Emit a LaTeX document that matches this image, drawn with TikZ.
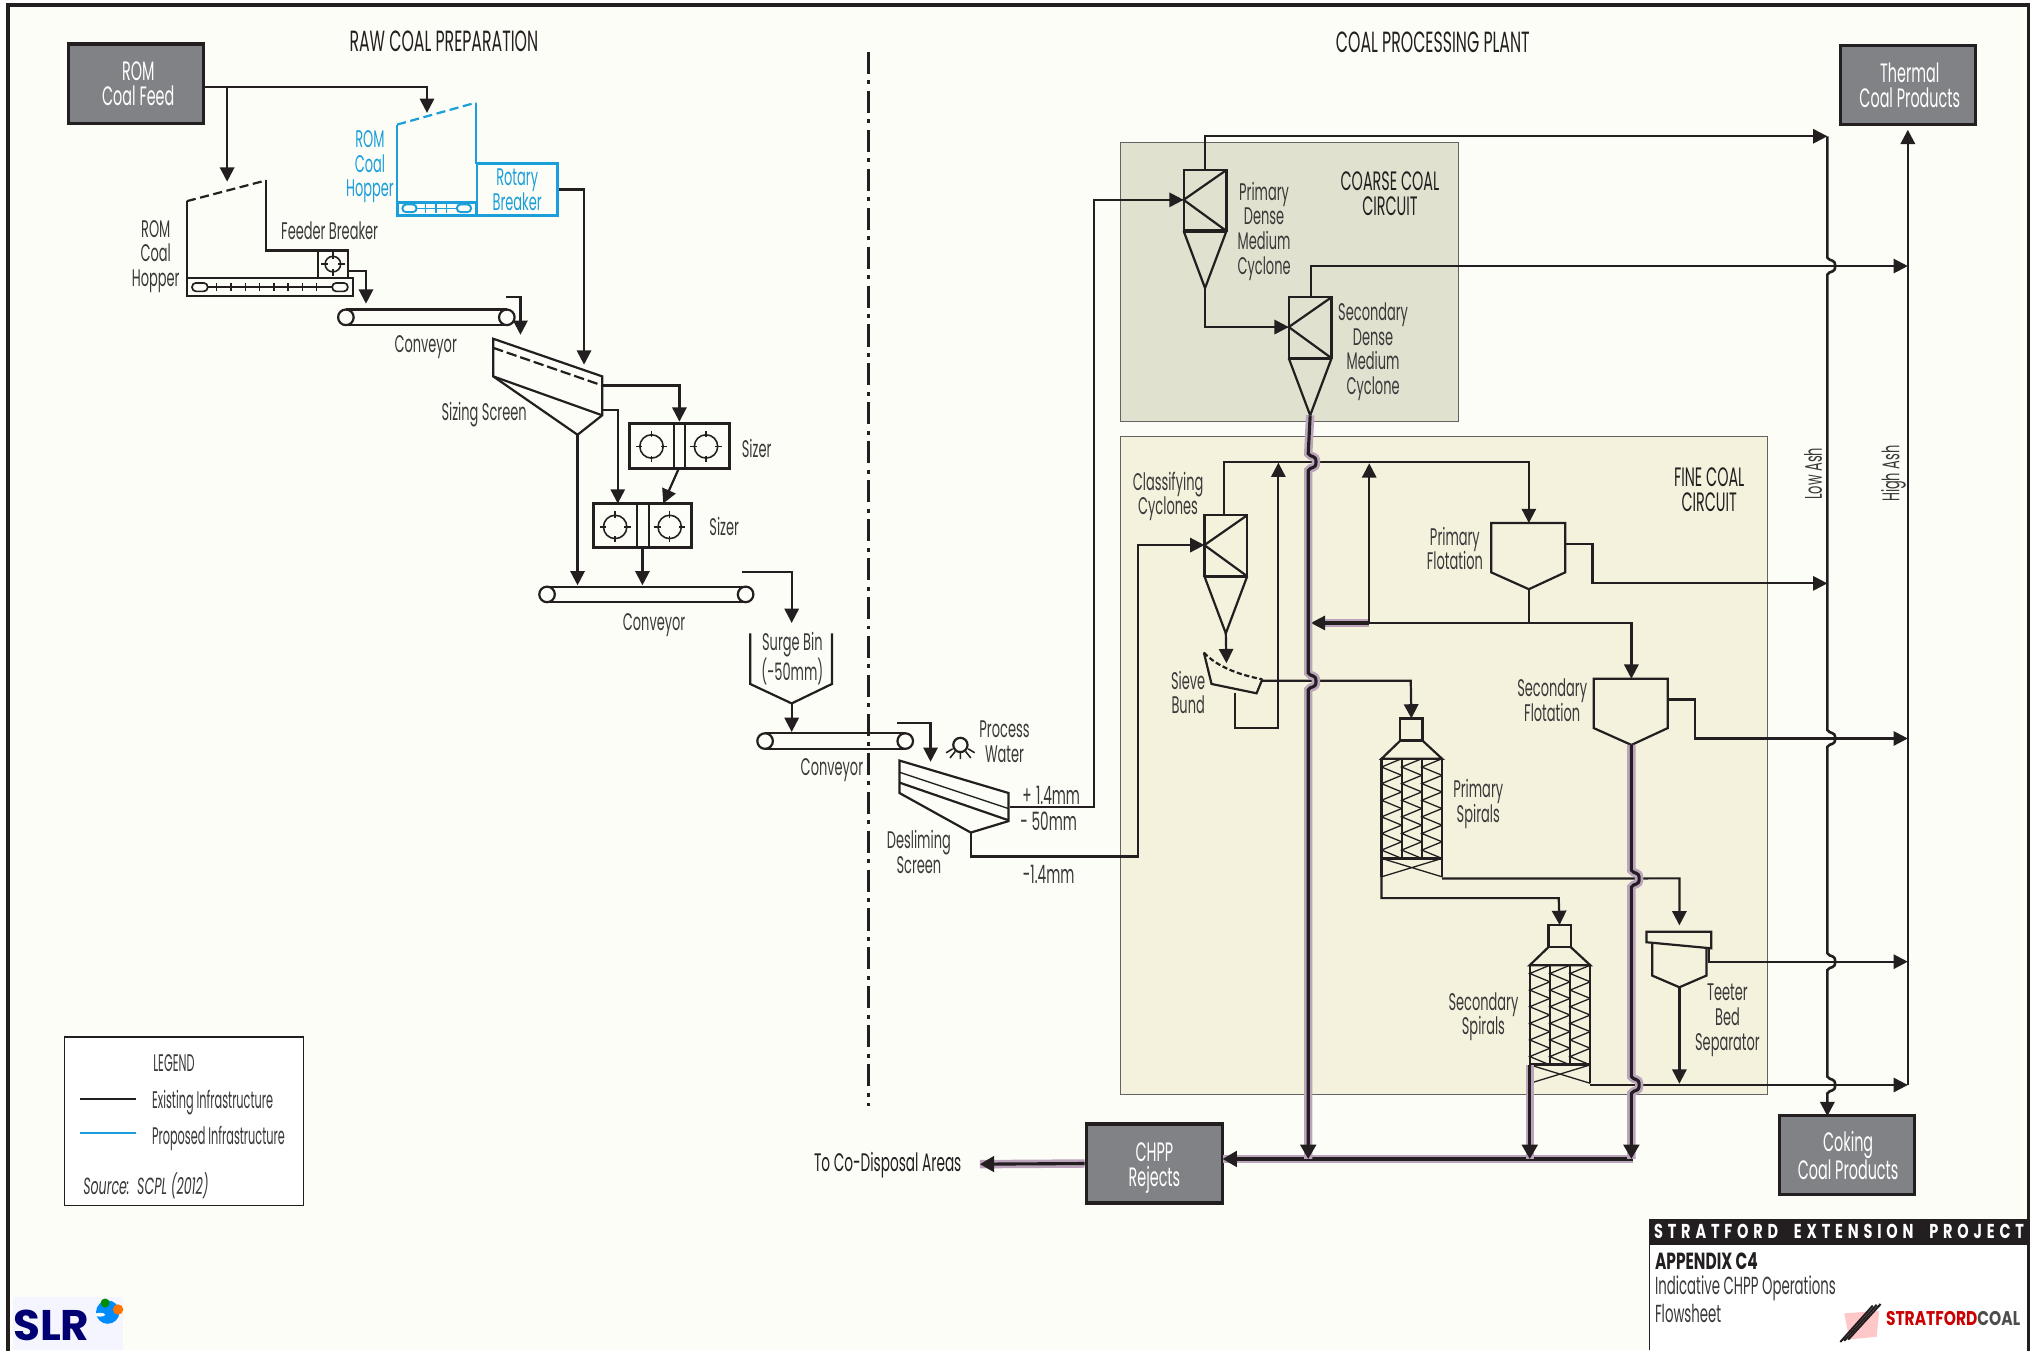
\documentclass[tikz,border=0pt]{standalone}
\usepackage{fontspec}
\setmainfont[FakeStretch=0.54]{Poppins}
\newfontfamily\headf[FakeStretch=0.72,LetterSpace=24]{Poppins}
\newfontfamily\logof[FakeStretch=0.78]{Poppins}
\newfontfamily\apxf[FakeStretch=0.66]{Poppins}
\newfontfamily\slrf[FakeStretch=1.02]{Poppins}
\newfontfamily\legf[FakeStretch=0.47]{Poppins}
\usetikzlibrary{arrows.meta,calc}
\definecolor{ink}{HTML}{231F20}
\definecolor{txt}{HTML}{3A3839}
\definecolor{paper}{HTML}{FDFDF7}
\definecolor{boxg}{HTML}{808285}
\definecolor{plum}{HTML}{BCA5BC}
\definecolor{pblue}{HTML}{1A9FDB}
\definecolor{coarse}{HTML}{E0E1CF}
\definecolor{fine}{HTML}{F4F2DD}
\tikzset{
  pipe/.style={draw=ink,line width=1.7pt,line join=miter},
  flow/.style={pipe,-{Triangle[length=11pt,width=11pt]}},
  rej/.style={draw=ink,line width=2.4pt,preaction={draw=plum,line width=6.5pt,-}},
  rejflow/.style={rej,-{Triangle[length=11pt,width=12pt]}},
  plant/.style={draw=ink,line width=1.7pt},
  bplant/.style={draw=pblue,line width=1.7pt},
  lab/.style={align=center,inner sep=0pt,text=txt,yshift=-2.5pt,font=\fontsize{18.5}{19}\selectfont},
  blab/.style={lab,text=pblue},
  head/.style={lab,text=ink,font=\fontsize{20.5}{19}\selectfont},
  title/.style={lab,text=ink,font=\fontsize{22.5}{19}\selectfont},
  legtext/.style={lab,anchor=west,font=\legf\fontsize{18.5}{19}\selectfont},
  prod/.style={draw=ink,fill=boxg,line width=2.6pt,inner sep=0pt,align=center,text=white,
     font=\fontsize{20.5}{19}\selectfont,minimum width=104pt,minimum height=61pt},
  circuit/.style={draw=ink!70,line width=0.8pt},
}
\newcommand\hop[2]{ -- ({#1},{#2-6.5}) .. controls ({#1+2},{#2-3}) and ({#1+6},{#2-6}) .. ({#1+6},{#2}) .. controls ({#1+6},{#2+6}) and ({#1+2},{#2+3}) .. ({#1},{#2+6.5}) }
\newcommand\conv[3]{% x1 x2 y
  \draw[plant] ({#1+6.5},{#3-6}) -- ({#2-6.5},{#3-6}) ({#1+6.5},{#3+6}) -- ({#2-6.5},{#3+6});
  \draw[plant] ({#1+6.5},{#3}) circle[radius=6pt] ({#2-6.5},{#3}) circle[radius=6pt];}
\newcommand\rotor[3]{% x y r
  \draw[draw=ink,line width=1.2pt] (#1,#2) circle[radius=#3 pt];
  \draw[draw=ink,line width=1.2pt] ({#1-#3-3},{#2}) -- ({#1-#3+2},{#2}) ({#1+#3-2},{#2}) -- ({#1+#3+3},{#2})
     ({#1},{#2-#3-3}) -- ({#1},{#2-#3+2}) ({#1},{#2+#3-2}) -- ({#1},{#2+#3+3});}
\newcommand\cyc[3]{% name x y
  \draw[plant] (#2,#3) rectangle ({#2+33},{#3+47});
  \draw[plant] ({#2+33},{#3}) -- ({#2},{#3+23}) -- ({#2+33},{#3+47});
  \draw[draw=ink,line width=2.4pt] (#2,{#3+47}) -- ({#2+33},{#3+47});
  \draw[plant] (#2,{#3+47}) -- ({#2+16.5},{#3+91}) -- ({#2+33},{#3+47});
  \coordinate (#1in) at (#2,{#3+23});
  \coordinate (#1top) at ({#2+16.5},#3);
  \coordinate (#1tip) at ({#2+16.5},{#3+91});}
\newcommand\zig[3]{% x1 x2 y0
  \foreach \i in {0,...,5}{
    \draw[draw=ink,line width=1pt] (#2,{#3+12.8*\i}) -- (#1,{#3+12.8*\i+6.4}) -- (#2,{#3+12.8*\i+12.8});}}
\newcommand\spiral[3]{% name x y
  \draw[plant] ({#2+14.5},#3) rectangle ({#2+31.5},{#3+17});
  \draw[plant] ({#2+14.5},{#3+17}) -- ({#2},{#3+31}) -- ({#2+46.6},{#3+31}) -- ({#2+31.5},{#3+17});
  \zig{#2}{#2+15.5}{#3+31}\zig{#2+15.5}{#2+31}{#3+31}\zig{#2+31}{#2+46.6}{#3+31}
  \draw[plant] (#2,{#3+31}) rectangle ({#2+46.6},{#3+107.8});
  \draw[plant] ({#2+15.5},{#3+31}) -- ({#2+15.5},{#3+107.8}) ({#2+31},{#3+31}) -- ({#2+31},{#3+107.8});
  \draw[draw=ink,line width=2.4pt] (#2,{#3+107.8}) -- ({#2+46.6},{#3+107.8});
  \draw[draw=ink,line width=1pt] (#2,{#3+107.8}) -- ({#2+46.6},{#3+122})
     (#2,{#3+122}) -- ({#2+46.6},{#3+107.8});
  \draw[plant] (#2,{#3+107.8}) -- (#2,{#3+122}) ({#2+46.6},{#3+107.8}) -- ({#2+46.6},{#3+122});
  \coordinate (#1top) at ({#2+23},#3);
  \coordinate (#1L) at (#2,{#3+107.8});
  \coordinate (#1R) at ({#2+46.6},{#3+123.3});}
\begin{document}
\begin{tikzpicture}[x=1pt,y=-1pt]
\useasboundingbox (0,0) rectangle (1568,1040.2);
\fill[white] (0,0) rectangle (1568,1040.2);
\fill[paper] (6,4) rectangle (1563,1040.2);
% circuits
\filldraw[fill=coarse,circuit] (863,110) rectangle (1124,325);
\filldraw[fill=fine,circuit] (863,336) rectangle (1362,843);
% titles
\node[title] (tRaw) at (342,29) {RAW COAL PREPARATION};
\node[title] (tPlant) at (1104,30) {COAL PROCESSING PLANT};
\node[head] (tCoarse) at (1071,147) {COARSE COAL\\CIRCUIT};
\node[head] (tFine) at (1317,375) {FINE COAL\\CIRCUIT};
% divider
\coordinate (divT) at (669,40); \coordinate (divB) at (669,852);
% product boxes
\node[prod] (romfeed) at (105,64.5) {\hspace*{3pt}ROM\\\hspace*{3pt}Coal Feed};
\node[prod] (thermal) at (1470,65.5) {\hspace*{3pt}Thermal\\\hspace*{3pt}Coal Products};
\node[prod] (coking) at (1423,890) {\hspace*{2pt}Coking\\\hspace*{2pt}Coal Products};
\node[prod,minimum width=105pt,text depth=0pt] (rejects) at (889.5,896.5) {\raisebox{-2pt}{CHPP}\\\raisebox{-2pt}{Rejects}};
% blue hopper
\draw[bplant,dash pattern=on 7pt off 3.5pt] (306,96) -- (367,79);
\draw[bplant] (306,96) -- (306,156) (367,79) -- (367,126);
\draw[draw=pblue,line width=2.2pt] (306,156) rectangle (367,166);
\node[draw=pblue,line width=2.2pt,minimum width=62pt,minimum height=40pt,inner sep=0pt,blab,yshift=2.5pt] (rotary) at (398.5,146) {Rotary\\Breaker};
\draw[draw=pblue,line width=1.5pt,rounded corners=3pt] (310,157.5) rectangle (321,163.5) (352,157.5) rectangle (363,163.5);
\draw[draw=pblue,line width=1.2pt] (321,160.5) -- (352,160.5) (328,157) -- (328,164) (336,157) -- (336,164) (344,157) -- (344,164);
\node[blab] (lblHopB) at (285,126) {ROM\\Coal\\Hopper};
% black hopper
\draw[plant,dash pattern=on 7pt off 3.5pt] (144,155) -- (205,139);
\draw[plant] (144,155) -- (144,214) (205,139) -- (205,193) -- (245,193);
\draw[plant] (144,214) rectangle (272,228);
\draw[plant] (245,193) rectangle (268,214);
\rotor{256.5}{203.5}{6}
\draw[draw=ink,line width=1.3pt,rounded corners=3pt] (148,218) rectangle (160,224.5) (256,218) rectangle (268,224.5);
\draw[draw=ink,line width=1.1pt] (160,221) -- (256,221);
\foreach \q in {167,178,189,200,211,222,233,244} \draw[draw=ink,line width=1.1pt] (\q,218) -- (\q,224.5);
\node[lab] (lblHop) at (120,195) {ROM\\Coal\\Hopper};
\node[lab] (lblFeeder) at (254,175) {Feeder Breaker};
% conveyors
\conv{260}{397}{244.5}
\conv{415}{581}{458}
\conv{583}{704}{571}
\node[lab] (lblC1) at (328,265) {Conveyor};
\node[lab] (lblC2) at (504,479) {Conveyor};
\node[lab] (lblC3) at (641,591) {Conveyor};
% sizing screen
\draw[plant] (380,261) -- (464,290) -- (464,320) -- (445,335) -- (380,290) -- cycle;
\draw[plant] (380,290) -- (464,320);
\draw[plant,dash pattern=on 8pt off 3pt] (380,268) -- (464,297);
\node[lab] (lblSS) at (373,317) {Sizing Screen};
% sizers
\node[draw=ink,line width=2.2pt,minimum width=77pt,minimum height=35pt,inner sep=0pt] (sizer1) at (523.5,343.5) {};
\node[draw=ink,line width=2.2pt,minimum width=76pt,minimum height=34pt,inner sep=0pt] (sizer2) at (495,405) {};
\draw[draw=ink,line width=1.5pt] (519,326) -- (519,361) (528,326) -- (528,361) (491,388) -- (491,422) (500,388) -- (500,422);
\rotor{502}{344}{9}\rotor{544}{344}{9}\rotor{474}{406}{9}\rotor{516}{406}{9}
\node[lab] (lblSz1) at (583,343) {Sizer};
\node[lab] (lblSz2) at (558,403) {Sizer};
% surge bin
\draw[plant] (578,488) -- (578,527) -- (610,542) -- (641,527) -- (641,488);
\node[lab] (lblSurge) at (610.5,505) {Surge Bin\\(-50mm)};
% process water
\draw[plant] (740,574) circle[radius=5.5pt];
\draw[draw=ink,line width=1.2pt] (740,580) -- (740,585) (736,579) -- (732,584) (744,579) -- (748,584) (734,577) -- (729,580) (746,577) -- (751,580);
\node[lab] (lblPW) at (774,569) {Process\\Water};
% desliming
\draw[plant] (693,586) -- (777,611) -- (777,632.7) -- (748,641.5) -- (693,611) -- cycle;
\draw[draw=ink,line width=1pt] (693,595) -- (777,623);
\draw[plant] (693,603) -- (777,632);
\node[lab] (lblDes) at (708,654) {Desliming\\Screen};
\node[lab,font=\fontsize{19.5}{19}\selectfont] (lbl1) at (810,610) {+\,1.4mm};
\node[lab,font=\fontsize{19.5}{19}\selectfont] (lbl2) at (808,630) {- 50mm};
\node[lab,font=\fontsize{19.5}{19}\selectfont] (lbl3) at (808,671) {-1.4mm};
% cyclones
\cyc{pd}{912}{131}
\cyc{sd}{993}{229}
\cyc{cc}{928}{397}
\node[lab] (lblPD) at (974,175.5) {Primary\\Dense\\Medium\\Cyclone};
\node[lab] (lblSD) at (1058,268.5) {Secondary\\Dense\\Medium\\Cyclone};
\node[lab] (lblCC) at (900,380) {Classifying\\Cyclones};
% sieve
\draw[plant] (927.6,502.8) -- (933.5,527) -- (968.2,534.2) -- (972.6,523.4);
\draw[plant,dash pattern=on 4pt off 2pt] (927.6,502.8) .. controls (938,514) and (955,520) .. (972.6,523.4);
\node[lab] (lblSieve) at (915.5,531) {Sieve\\Bund};
% flotation
\draw[plant] (1149,403) -- (1206,403) -- (1206,441) -- (1178,454) -- (1149,441) -- cycle;
\draw[plant] (1228,523) -- (1285,523) -- (1285,561) -- (1257,574) -- (1228,561) -- cycle;
\node[lab] (lblPF) at (1121,420) {Primary\\Flotation};
\node[lab] (lblSF) at (1196,537) {Secondary\\Flotation};
% spirals
\spiral{ps}{1064.5}{553.6}
\spiral{ss}{1178.7}{712.7}
\node[lab] (lblPS) at (1139,617) {Primary\\Spirals};
\node[lab] (lblSS2) at (1143,781) {Secondary\\Spirals};
% teeter
\draw[plant] (1268.6,718) -- (1318.6,718) -- (1318.6,730.7) -- (1268.6,726) -- cycle;
\draw[plant] (1273,727) -- (1273,751.7) -- (1294,760.7) -- (1314.8,751.7) -- (1314.8,731);
\node[lab] (lblTB) at (1331,783.5) {Teeter\\Bed\\Separator};
% ash labels
\node[align=center,inner sep=0pt,text=txt,font=\fontsize{18.5}{19}\selectfont,rotate=90] (lblLow) at (1397,365) {Low Ash};
\node[align=center,inner sep=0pt,text=txt,font=\fontsize{18.5}{19}\selectfont,rotate=90] (lblHigh) at (1459,365) {High Ash};
% named ports
\coordinate (hopB) at (329,87); \coordinate (hopK) at (175,140);
\coordinate (feedOut) at (268,209); \coordinate (c1in) at (282,234);
\coordinate (c1out) at (390,229); \coordinate (ssIn1) at (401,258);
\coordinate (ssIn2) at (450,281);
\coordinate (ssOver) at (464,297); \coordinate (ssMid) at (464,316); \coordinate (ssTip) at (445,335);
\coordinate (c2in1) at (445,451); \coordinate (c2in2) at (495,451);
\coordinate (c2out) at (572,441); \coordinate (binIn) at (610,480);
\coordinate (binTip) at (610,542); \coordinate (c3in) at (610,564);
\coordinate (c3out) at (691,557); \coordinate (desIn) at (717,587);
\coordinate (desOver) at (778,622); \coordinate (desTip) at (748,641.5);
\coordinate (sieveIn) at (945,511); \coordinate (sieveOut) at (972,524.5); \coordinate (sieveU) at (951.5,534);
\coordinate (pfTop) at (1178,403); \coordinate (pfTip) at (1178,454); \coordinate (pfOut) at (1206,419);
\coordinate (sfTop) at (1257,523); \coordinate (sfTip) at (1257,574); \coordinate (sfOut) at (1285,539);
\coordinate (teeTop) at (1294,713); \coordinate (teeTip) at (1294,760.7); \coordinate (teeOut) at (1317,731);
\coordinate (teeDn) at (1294,835);
\coordinate (lowTop) at (1408,105); \coordinate (lowEnd) at (1408,860);
\coordinate (highBot) at (1470,836); \coordinate (highEnd) at (1470,100);
\coordinate (jnc) at (1010,480);
\coordinate (rejIn) at (942,893);
% divider line
\draw[draw=ink,line width=2.6pt,dash pattern=on 17pt off 5pt on 3pt off 5pt] (divT) -- (divB);
% raw coal connectors
\draw[flow] ($(romfeed.east)+(0,2.5)$) -- (329,67) -- (hopB);
\draw[flow] (175,67) -- (hopK);
\draw[flow] (feedOut) -| (c1in);
\draw[flow] (c1out) -| (ssIn1);
\draw[flow] (rotary.east) -| (ssIn2);
\draw[flow] (ssOver) -| (sizer1.north);
\draw[flow] (ssMid) -| (476,388);
\draw[flow] (ssTip) -- (c2in1);
\draw[flow] (523,361) -- (511,388);
\draw[flow] (sizer2.south) -- (c2in2);
\draw[flow] (c2out) -| (binIn);
\draw[flow] (binTip) -- (c3in);
\draw[flow] (c3out) -| (desIn);
\draw[flow] (desOver) -- (843,622) -- (843,154) -- (pdin);
\draw[flow] (desTip) -- (748,660) -- (877,660) -- (877,420) -- (ccin);
% coarse
\draw[flow] (pdtop) -- (928.5,105) -- (lowTop);
\draw[flow] (pdtip) -- (928.5,252) -- (sdin);
\draw[flow] (1010,229) -- (1010,205) -- (1470,205);
% fine connectors
\draw[flow] (943,397) -- (943,356) -- (1178,356) -- (pfTop);
\draw[flow] (cctip) -- (sieveIn);
\draw[flow] (sieveU) -- (951.5,561) -- (985,561) -- (985,356.5);
\draw[flow] (sieveOut) -- (1087,524.5) -- (pstop);
\draw[flow] (pfOut) -- (1227,419) -- (1227,449.5) -- (1408,449.5);
\draw[pipe] (pfTip) -- (1178,480);
\draw[rej] (1055,480) -- (1020,480);
\draw[flow] (1055,480) -- (1055,357);
\draw[flow] (1257,480) -- (jnc);
\draw[flow] (1178,480) -| (sfTop);
\draw[flow] (sfOut) -- (1306,539) -- (1306,569) -- (1470,569);
\draw[flow] (psR) -- (1294,676.8) -- (teeTop);
\draw[flow] (psL) -- (1064.5,692) -- (1201,692) -- (sstop);
\draw[flow] (teeOut) -- (1317,741) -- (1470,741);
\draw[flow] (teeTip) -- (teeDn);
\draw[flow] (ssR) -- (1470,836);
% ash mains
\draw[flow,line width=2pt] (lowTop) \hop{1408}{205} \hop{1408}{569} \hop{1408}{741} \hop{1408}{836} -- (lowEnd);
\draw[flow,line width=2pt] (highBot) -- (highEnd);
% reject mains
\draw[rejflow] (1258,893) -- (rejIn);
\draw[rejflow] (sdtip) \hop{1008}{356} \hop{1008}{525} -- (1008,893);
\draw[rejflow] (sfTip) \hop{1257}{677} \hop{1257}{836} -- (1257,893);
\draw[rejflow] (ssL) -- (1178.7,893);
\draw[rejflow] (rejects.west) -- (755,897);
\node[lab,text=ink,font=\fontsize{19.5}{19}\selectfont] (lblDisp) at (684,895.5) {To Co-Disposal Areas};
% legend
\node[draw=ink,fill=white,line width=0.9pt,minimum width=184pt,minimum height=130pt,inner sep=0pt] (legend) at (142,864) {};
\node[lab,font=\legf\fontsize{18.5}{19}\selectfont] (lgT) at (134,817) {LEGEND};
\coordinate (lgA1) at (62,847); \coordinate (lgA2) at (105,847);
\coordinate (lgB1) at (62,873); \coordinate (lgB2) at (105,873);
\draw[pipe] (lgA1) -- (lgA2);
\draw[draw=pblue,line width=1.7pt] (lgB1) -- (lgB2);
\node[legtext] (lgE) at (117,847) {Existing Infrastructure};
\node[legtext] (lgP) at (117,875) {Proposed Infrastructure};
\node[legtext,font=\fontsize{18}{19}\selectfont\itshape] (lgS) at (64,911.5) {Source:\ \ SCPL (2012)};
% title block
\fill[white] (1271,959) rectangle (1563,1040.2);
\draw[draw=ink,line width=1pt] (1271,939) -- (1271,1040.2);
\node[fill=ink,minimum width=292pt,minimum height=20pt,inner sep=0pt,text=white,font=\headf\bfseries\fontsize{15.5}{16}\selectfont] (tbh) at (1417,949) {STRATFORD\ \ EXTENSION\ \ PROJECT};
\node[anchor=west,inner sep=0pt,text=ink,font=\apxf\bfseries\fontsize{18}{18}\selectfont] (tb1) at (1275,972) {APPENDIX C4};
\node[anchor=west,inner sep=0pt,text=txt,font=\fontsize{19}{19}\selectfont] (tb2) at (1275,993) {Indicative CHPP Operations};
\node[anchor=west,inner sep=0pt,text=txt,font=\fontsize{19}{19}\selectfont] (tb3) at (1275,1012) {Flowsheet};
% frame
\draw[draw=ink,line width=3pt] (6,1045) -- (6,4) -- (1563,4) -- (1563,1045);
% stratford logo
\fill[red!22] (1421,1012) -- (1448,1010) -- (1446,1030) -- (1425,1032) -- cycle;
\foreach \d in {0,3,6} \draw[draw=ink,line width=1.6pt] ({1418+\d},{1034-\d*0.3}) -- ({1443+\d},{1006-\d*0.2});
\node[anchor=west,inner sep=0pt,font=\logof\bfseries\fontsize{15.3}{16}\selectfont] (logo) at (1453,1016) {\textcolor{red!80!black}{STRATFORD}\textcolor{ink!80}{COAL}};
% slr logo
\fill[blue!4] (10,999) rectangle (95,1040.2);
\node[anchor=base west,inner sep=0pt,text=blue!45!black,font=\slrf\bfseries\fontsize{33}{34}\selectfont] (slr) at (10,1033) {SLR};
\fill[blue!45!cyan] (83,1011) circle[radius=9pt];
\fill[green!55!black] (81,1004) circle[radius=3.5pt];
\fill[orange!90!red] (91,1009) circle[radius=4pt];
\fill[white] (77,1013) ellipse[x radius=4pt,y radius=1.5pt];
\end{tikzpicture}
\end{document}
